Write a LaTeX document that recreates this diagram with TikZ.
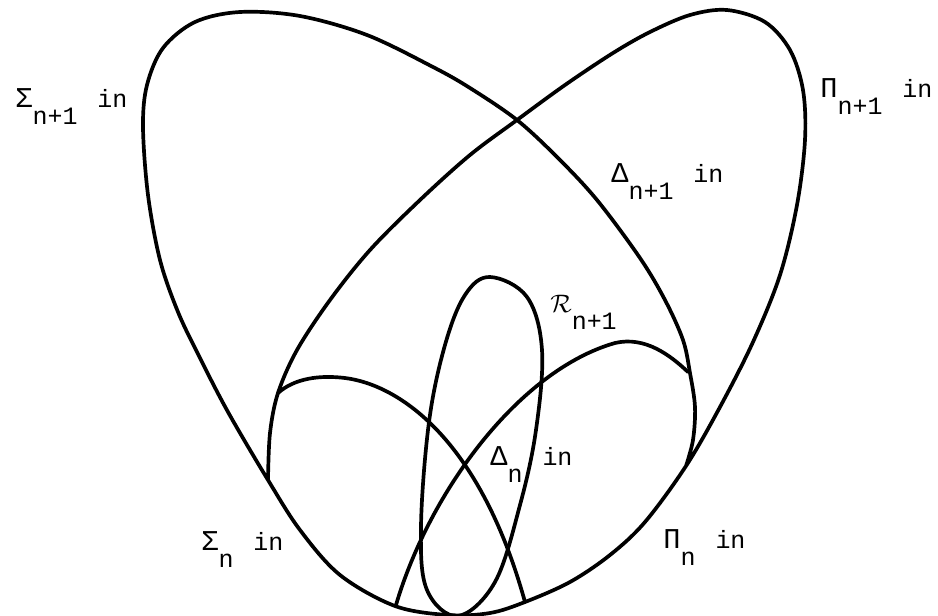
\documentclass[tikz,border=0pt]{standalone}
\usepackage{fontspec}
\usepackage{tikz}
\newfontfamily\typefont{Liberation Mono}

% set name with lowered index, then "in"
\newcommand{\setname}[2]{\scalebox{1.15}{#1}\raisebox{-0.7em}{#2}}
\newcommand{\setnamein}[2]{\setname{#1}{#2}\hspace{0.8em}in}

\begin{document}
\begin{tikzpicture}[
    x=0.02cm, y=-0.02cm,
    % region boundaries
    curve/.style={line width=2.1pt, line join=round, line cap=round},
    % typewritten set labels
    setlabel/.style={font=\typefont\fontsize{14.2}{16}\selectfont,
                     inner sep=0pt, anchor=base west}
]
\useasboundingbox (0,0) rectangle (938,616);

%-------- OUTER TWO LOBES (n+1) --------
\draw[curve] plot[smooth, tension=0.55] coordinates {
    (686,466) (693,440) (695,407) (690,373) (683,340) (665,300) (640,258)
    (597,200) (558,158) (517,120) (470,88) (433,67) (367,35) (300,16)
    (240,12) (195,22) (163,48) (147,85) (143,127) (148,195) (160,260)
    (178,312) (200,358) (228,412) (268,480) (300,530) (340,575) (395,606)
    (448,615) (490,613) (525,602) (570,582) (610,555) (645,522) (686,466)
    (720,407) (753,342) (780,275) (797,205) (805,140) (803,90) (790,50)
    (765,22) (727,10) (690,15) (650,32) (613,53) (565,85) (517,120)
    (470,155) (420,200) (370,250) (330,300) (297,350) (278,393) (270,433)
    (268,480)};

%-------- INNER ARCS (n) --------
\coordinate (sigmastart) at (278,393);
\coordinate (sigmaend)   at (525,602);
\coordinate (pistart)    at (396,605);
\coordinate (piend)      at (688,372);
\draw[curve] (sigmastart) .. controls (295,378) and (320,375) .. (345,378)
    .. controls (400,385) and (480,440) .. (sigmaend);
\draw[curve] (pistart) .. controls (430,490) and (520,370) .. (615,343)
    .. controls (645,336) and (670,355) .. (piend);

%-------- RECURSIVE SETS --------
\draw[curve] plot[smooth cycle, tension=0.6] coordinates {
    (490,277) (527,297) (542,350) (536,430) (520,505) (495,582) (458,616)
    (427,590) (421,527) (429,422) (445,345) (465,295)};

%-------- LABELS --------
\node[setlabel] (sigmanext) at (15,107)  {\setnamein{Σ}{n+1}};
\node[setlabel] (pinext)    at (820,97)  {\setnamein{Π}{n+1}};
\node[setlabel] (deltanext) at (611,182) {\setnamein{Δ}{n+1}};
\node[setlabel] (recnext)   at (550,312) {$\mathcal{R}$\raisebox{-0.7em}{n+1}};
\node[setlabel] (deltan)    at (490,465) {\setnamein{Δ}{n}};
\node[setlabel] (sigman)    at (201,550) {\setnamein{Σ}{n}};
\node[setlabel] (pin)       at (663,548) {\setnamein{Π}{n}};

\end{tikzpicture}
\end{document}
